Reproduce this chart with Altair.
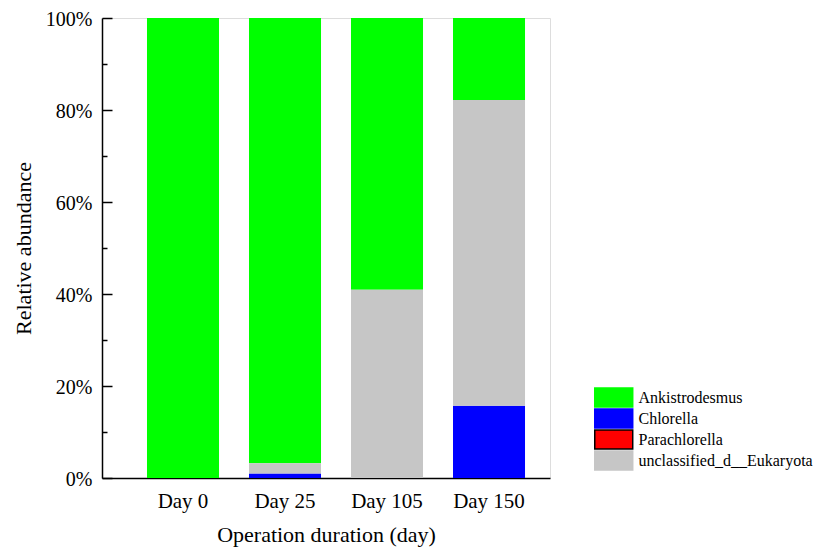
import altair as alt
import pandas as pd

days = ["Day 0", "Day 25", "Day 105", "Day 150"]
taxa = ["Ankistrodesmus", "Chlorella", "Parachlorella", "unclassified_d__Eukaryota"]
colors = ["#00FF00", "#0000FF", "#FF0000", "#C6C6C6"]
strokes = ["#00FF00", "#0000FF", "#000000", "#C6C6C6"]
stack_order = [4, 1, 2, 3]  # bottom -> top: Chlorella, Parachlorella, unclassified, Ankistrodesmus

ankistrodesmus = [100.0, 96.8, 59.1, 17.8]
chlorella = [0.0, 1.0, 0.0, 15.7]
parachlorella = [0.0, 0.0, 0.0, 0.0]
unclassified = [0.0, 2.2, 40.9, 66.5]

series = [ankistrodesmus, chlorella, parachlorella, unclassified]
rows = []
for t, vals, o in zip(taxa, series, stack_order):
    for d, v in zip(days, vals):
        rows.append({"day": d, "taxon": t, "value": v, "ord": o})
df = pd.DataFrame(rows)
df_bars = df[df["value"] > 0]

FONT = "Liberation Serif"
yscale = alt.Scale(domain=[0, 100], nice=False)
xscale = alt.Scale(paddingInner=0.294, paddingOuter=0.343, align=0.643)
xenc = alt.X("day:N", sort=days, scale=xscale, title="Operation duration (day)",
             axis=alt.Axis(labelAngle=0, ticks=False, domainColor="black", domainWidth=1.5,
                           labelFont=FONT, labelFontSize=21, labelColor="black", labelPadding=12,
                           titleFont=FONT, titleFontSize=22, titleFontWeight="normal",
                           titleColor="black", titlePadding=13))

bars = alt.Chart(df_bars).mark_bar(strokeWidth=0).encode(
    x=xenc,
    y=alt.Y("value:Q", stack="zero", scale=yscale, title="Relative abundance",
            axis=alt.Axis(orient="left", values=[0, 20, 40, 60, 80, 100], ticks=False,
                          labelExpr="datum.value + '%'", domainColor="black", domainWidth=1.5,
                          labelFont=FONT, labelFontSize=20, labelColor="black", labelPadding=10,
                          labelOffset=1,
                          titleFont=FONT, titleFontSize=22, titleFontWeight="normal",
                          titleColor="black", titlePadding=10, grid=False)),
    color=alt.Color("taxon:N", scale=alt.Scale(domain=taxa, range=colors), title=None,
                    legend=alt.Legend(orient="none", legendX=492, legendY=369,
                                      symbolType="M-1,-1.31h5.24v2.62h-5.24z", symbolSize=210,
                                      symbolStrokeWidth=1.5, symbolOpacity=1,
                                      labelFont=FONT, labelFontSize=16, labelColor="black",
                                      labelOffset=28.5, labelLimit=0, clipHeight=21,
                                      rowPadding=0, padding=0)),
    stroke=alt.Stroke("taxon:N", scale=alt.Scale(domain=taxa, range=strokes), title=None),
    order=alt.Order("ord:Q"),
)

major = alt.Chart(df).mark_point(opacity=0).encode(
    y=alt.Y("value:Q", scale=yscale,
            axis=alt.Axis(orient="left", values=[0, 20, 40, 60, 80, 100], labels=False,
                          domain=False, grid=False, title=None, tickSize=10, offset=-10,
                          tickColor="black", tickWidth=1.5)),
)
minor = alt.Chart(df).mark_point(opacity=0).encode(
    y=alt.Y("value:Q", scale=yscale,
            axis=alt.Axis(orient="left", values=[10, 30, 50, 70, 90], labels=False,
                          domain=False, grid=False, title=None, tickSize=5, offset=-5,
                          tickColor="black", tickWidth=1.5)),
)

chart = alt.layer(bars, major, minor).resolve_axis(y="independent").resolve_scale(
    y="shared"
).properties(
    width=448, height=460,
    autosize=alt.AutoSizeParams(type="none"),
    padding={"left": 94, "top": 10, "right": 264, "bottom": 72},
).configure_view(stroke=None).configure(background="white")

chart.save("out.html", embed_options={"renderer": "svg", "actions": False})
